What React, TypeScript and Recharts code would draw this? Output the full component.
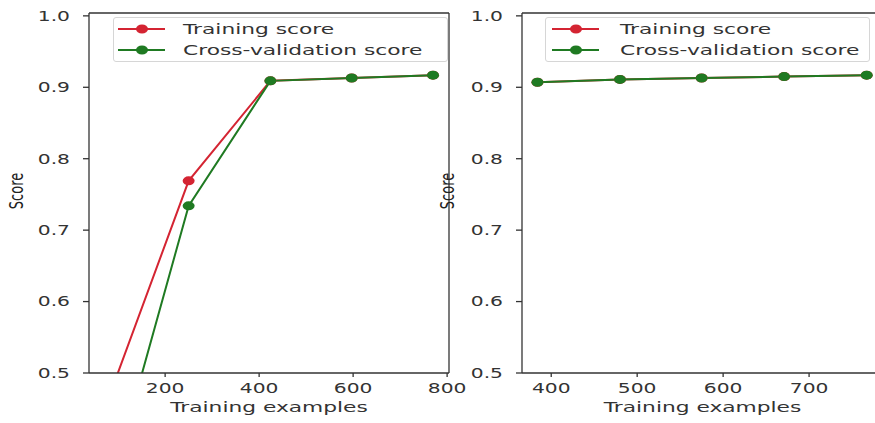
import React from 'react';
import { LineChart, Line, XAxis, YAxis, Legend, Label, ReferenceLine } from 'recharts';

// learning curve, left panel (full training range)
const leftSizes = [77, 250, 424, 597, 770];
const leftTrain = [0.46, 0.769, 0.909, 0.913, 0.917];
const leftCv = [0.325, 0.734, 0.909, 0.913, 0.917];
const leftXTicks = [200, 400, 600, 800];

// right panel (upper half of training range)
const rightSizes = [384, 480, 575, 671, 767];
const rightTrain = [0.907, 0.911, 0.913, 0.915, 0.917];
const rightCv = [0.907, 0.911, 0.913, 0.915, 0.917];
const rightXTicks = [400, 500, 600, 700];

const yTicks = [0.5, 0.6, 0.7, 0.8, 0.9, 1.0];
const seriesNames = ['Training score', 'Cross-validation score'];

const FONT = '"DejaVu Sans", sans-serif';
const STRETCH = 1.5; // the source image is horizontally stretched
const RED = '#d42432';
const GREEN = '#1f7a22';
const SPINE = '#333';
const Y_DOMAIN: [number, number] = [0.5, 1.004];

const XTick = (props: any) => {
  const { x, y, payload } = props;
  return (
    <g transform={`translate(${x},${y})`}>
      <text
        transform={`scale(${STRETCH},1)`}
        textAnchor="middle"
        dy="0.8em"
        fontSize={13.5}
        fontFamily={FONT}
        fill="#333"
      >
        {payload.value}
      </text>
    </g>
  );
};

const YTick = (props: any) => {
  const { x, y, payload } = props;
  return (
    <g transform={`translate(${x},${y})`}>
      <text
        transform={`scale(${STRETCH},1)`}
        textAnchor="end"
        dy="0.36em"
        fontSize={13.5}
        fontFamily={FONT}
        fill="#333"
      >
        {Number(payload.value).toFixed(1)}
      </text>
    </g>
  );
};

const XTitle = (props: any) => {
  const vb = props.viewBox;
  return (
    <g transform={`translate(${vb.x + vb.width / 2},${vb.y + 39})`}>
      <text
        transform={`scale(${STRETCH},1)`}
        textAnchor="middle"
        fontSize={14.5}
        fontFamily={FONT}
        fill="#333"
      >
        Training examples
      </text>
    </g>
  );
};

const makeYTitle = (cx: number) => (props: any) => {
  const vb = props.viewBox;
  return (
    <g transform={`translate(${cx},${vb.y + 178}) scale(${STRETCH},1) rotate(-90)`}>
      <text textAnchor="middle" dy="0.35em" fontSize={13} fontFamily={FONT} fill="#222">
        Score
      </text>
    </g>
  );
};

const makeLegend = (padLeft: number, gap: number) => (props: any) => {
  const items = [...(props.payload || [])].sort(
    (a: any, b: any) => seriesNames.indexOf(a.value) - seriesNames.indexOf(b.value)
  );
  return (
    <div
      style={{
        boxSizing: 'border-box',
        width: '100%',
        height: '100%',
        border: '1px solid #d6d6d6',
        borderRadius: 3,
        background: 'rgba(255,255,255,0.85)',
        paddingLeft: padLeft,
      }}
    >
      {items.map((item: any) => (
        <div key={item.value} style={{ display: 'flex', alignItems: 'center', height: 21 }}>
          <svg width={47} height={12} style={{ flex: 'none' }}>
            <line x1={0} x2={47} y1={6} y2={6} stroke={item.color} strokeWidth={2} />
            <ellipse cx={24} cy={6} rx={6} ry={4.5} fill={item.color} />
          </svg>
          <span
            style={{
              marginLeft: gap,
              fontFamily: FONT,
              fontSize: 14.5,
              color: '#333',
              whiteSpace: 'nowrap',
              display: 'inline-block',
              transform: `scaleX(${STRETCH})`,
              transformOrigin: 'left center',
            }}
          >
            {item.value}
          </span>
        </div>
      ))}
    </div>
  );
};

const makeDot = (color: string) => (p: any) => (
  <ellipse key={`d-${p.index}`} cx={p.cx} cy={p.cy} rx={6} ry={4.5} fill={color} />
);

type PanelProps = {
  sizes: number[];
  train: number[];
  cv: number[];
  xDomain: [number, number];
  xTicks: number[];
  yAxisWidth: number;
  marginRight: number;
  titleX: number;
  legendBox: { left: number; top: number; width: number; height: number };
  legendPad: number;
  legendGap: number;
};

const Panel = ({
  sizes,
  train,
  cv,
  xDomain,
  xTicks,
  yAxisWidth,
  marginRight,
  titleX,
  legendBox,
  legendPad,
  legendGap,
}: PanelProps) => {
  const data = sizes.map((s, i) => ({ size: s, train: train[i], cv: cv[i] }));

  return (
    <LineChart
      width={480}
      height={423}
      data={data}
      margin={{ top: 13, right: marginRight, bottom: 0, left: 0 }}
    >
      <XAxis
        dataKey="size"
        type="number"
        domain={xDomain}
        allowDataOverflow
        ticks={xTicks}
        height={50}
        tickSize={4}
        tickMargin={5}
        stroke={SPINE}
        strokeWidth={1.3}
        tick={(p: any) => <XTick {...p} />}
      >
        <Label content={(p: any) => <XTitle {...p} />} />
      </XAxis>
      <YAxis
        type="number"
        domain={Y_DOMAIN}
        allowDataOverflow
        ticks={yTicks}
        width={yAxisWidth}
        tickSize={6}
        tickMargin={13}
        stroke={SPINE}
        strokeWidth={1.3}
        tick={(p: any) => <YTick {...p} />}
      >
        <Label content={makeYTitle(titleX)} />
      </YAxis>
      {/* top and right spines */}
      <ReferenceLine y={Y_DOMAIN[1]} stroke={SPINE} strokeWidth={1.3} ifOverflow="visible" />
      <ReferenceLine x={xDomain[1]} stroke={SPINE} strokeWidth={1.3} ifOverflow="visible" />
      <Legend
        layout="vertical"
        align="center"
        verticalAlign="middle"
        wrapperStyle={{ ...legendBox }}
        content={makeLegend(legendPad, legendGap)}
      />
      <Line
        dataKey="train"
        name="Training score"
        stroke={RED}
        strokeWidth={2}
        dot={makeDot(RED)}
        activeDot={false}
        isAnimationActive={false}
      />
      <Line
        dataKey="cv"
        name="Cross-validation score"
        stroke={GREEN}
        strokeWidth={2}
        dot={makeDot(GREEN)}
        activeDot={false}
        isAnimationActive={false}
      />
    </LineChart>
  );
};

export default function App() {
  return (
    <div
      style={{
        position: 'absolute',
        left: 0,
        top: 0,
        width: 875,
        height: 423,
        overflow: 'hidden',
        background: '#fff',
      }}
    >
      <div style={{ position: 'absolute', left: 0, top: 0 }}>
        <Panel
          sizes={leftSizes}
          train={leftTrain}
          cv={leftCv}
          xDomain={[38, 804]}
          xTicks={leftXTicks}
          yAxisWidth={89}
          marginRight={31}
          titleX={16}
          legendBox={{ left: 113, top: 17, width: 335, height: 45 }}
          legendPad={4}
          legendGap={18}
        />
      </div>
      <div style={{ position: 'absolute', left: 430, top: 0 }}>
        <Panel
          sizes={rightSizes}
          train={rightTrain}
          cv={rightCv}
          xDomain={[366, 786]}
          xTicks={rightXTicks}
          yAxisWidth={92}
          marginRight={27}
          titleX={17}
          legendBox={{ left: 115, top: 17, width: 325, height: 45 }}
          legendPad={6}
          legendGap={21}
        />
      </div>
    </div>
  );
}
